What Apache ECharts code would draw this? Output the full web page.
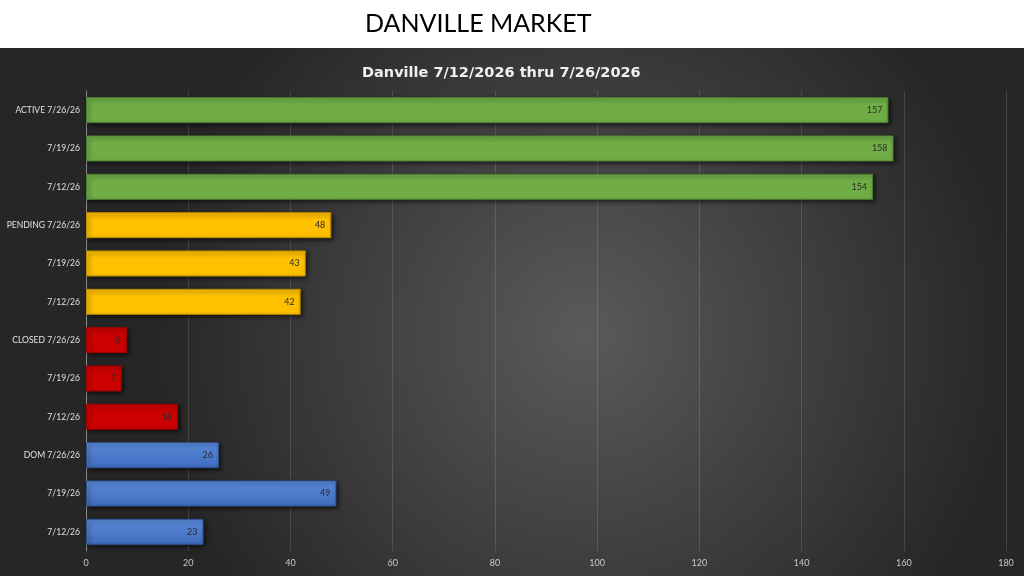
<!DOCTYPE html>
<html>
<head>
<meta charset="utf-8">
<title>Danville Market</title>
<script src="https://cdn.jsdelivr.net/npm/echarts@6/dist/echarts.min.js"></script>
<style>
  html, body { margin: 0; padding: 0; background: #fff; }
  #chart { width: 1024px; height: 576px; }
</style>
</head>
<body>
<div id="chart"></div>
<script>
// categories top to bottom (trailing spaces keep repeated dates distinct, trimmed on display)
var categories = ['ACTIVE 7/26/26', '7/19/26', '7/12/26',
                  'PENDING 7/26/26', '7/19/26 ', '7/12/26 ',
                  'CLOSED 7/26/26', '7/19/26  ', '7/12/26  ',
                  'DOM 7/26/26', '7/19/26   ', '7/12/26   '];
var values = [157, 158, 154, 48, 43, 42, 8, 7, 18, 26, 49, 23];
var groups = ['active', 'active', 'active', 'pending', 'pending', 'pending',
              'closed', 'closed', 'closed', 'dom', 'dom', 'dom'];
var xTicks = [0, 20, 40, 60, 80, 100, 120, 140, 160, 180];

var groupStyle = {
  active:  { color: '#70AD47', border: '#4f7d31' },
  pending: { color: '#FFC000', border: '#b88a00' },
  closed:  { color: '#CC0000', border: '#a00000' },
  dom:     { color: new echarts.graphic.LinearGradient(0, 0, 0, 1, [
              { offset: 0, color: '#5b8bdc' },
              { offset: 1, color: '#3f6bbd' }]), border: '#2f528f' }
};

var chart = echarts.init(document.getElementById('chart'));
var option = {
  backgroundColor: {
    type: 'radial', x: 0.57, y: 0.58, r: 0.75,
    colorStops: [{ offset: 0, color: '#5a5a5a' }, { offset: 1, color: '#262626' }]
  },
  graphic: [{
    type: 'rect', left: 0, top: 0, z: -1,
    shape: { width: 1024, height: 48 },
    style: { fill: '#ffffff' }
  }, {
    type: 'text', left: 365, top: 11,
    style: { text: 'DANVILLE MARKET', fill: '#000', font: '25px Lato, "Open Sans", sans-serif' }
  }],
  title: {
    text: 'Danville 7/12/2026 thru 7/26/2026',
    left: 357, top: 61,
    textStyle: { color: '#f0f0f0', fontSize: 14.5, fontWeight: 'bold', fontFamily: '"DejaVu Sans", sans-serif' }
  },
  grid: { left: 86, right: 18, top: 91, bottom: 25, containLabel: false },
  xAxis: {
    type: 'value', min: 0, max: 180, interval: 20,
    axisLine: { show: false }, axisTick: { show: false },
    splitLine: { lineStyle: { color: 'rgba(255,255,255,0.13)', width: 1 } },
    axisLabel: {
      color: '#c8c8c8', fontSize: 9, margin: 8, fontFamily: 'Lato, sans-serif',
      formatter: function (v) { return xTicks.indexOf(v) >= 0 ? String(v) : ''; }
    }
  },
  yAxis: {
    type: 'category', data: categories, inverse: true,
    axisLine: { show: true, lineStyle: { color: '#8a8a8a' } },
    axisTick: { show: false },
    axisLabel: {
      color: '#e0e0e0', fontSize: 8.6, margin: 6, fontFamily: 'Lato, sans-serif',
      formatter: function (v) { return v.trim(); }
    }
  },
  series: [{
    type: 'bar',
    barCategoryGap: '32%',
    data: values.map(function (v, i) {
      var s = groupStyle[groups[i]];
      return {
        value: v,
        itemStyle: {
          color: s.color, borderColor: s.border, borderWidth: 1,
          shadowColor: 'rgba(0,0,0,0.6)', shadowBlur: 4, shadowOffsetX: 2, shadowOffsetY: 2
        }
      };
    }),
    label: {
      show: true, position: 'insideRight', distance: 6,
      color: '#2a2a2a', fontSize: 9, fontFamily: 'Lato, sans-serif'
    }
  }]
};
chart.setOption(option);
</script>
</body>
</html>
